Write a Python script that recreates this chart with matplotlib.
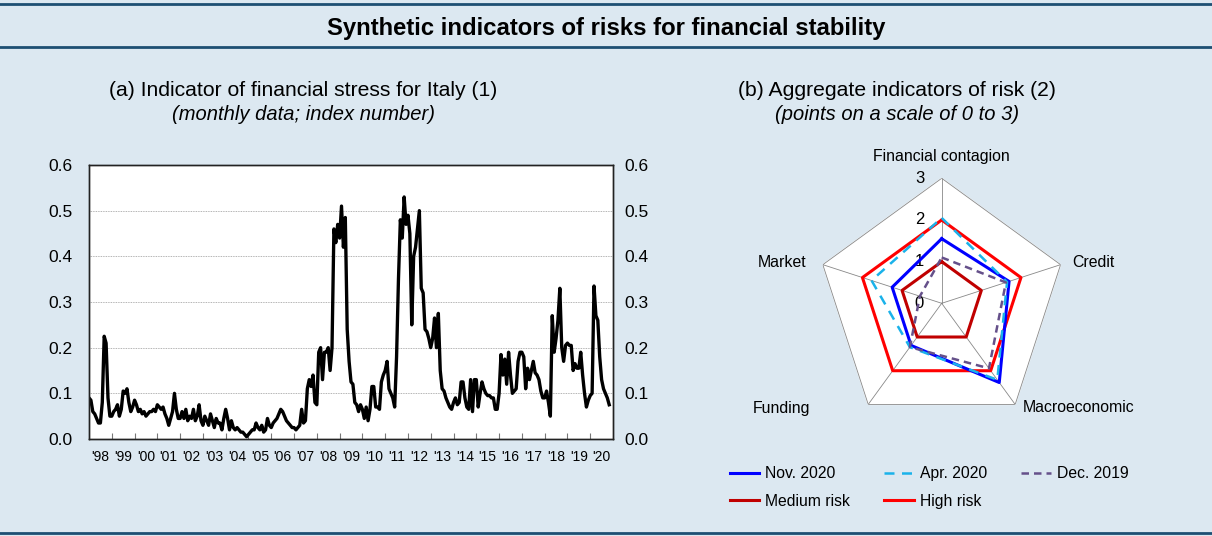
import numpy as np
import matplotlib.pyplot as plt
from matplotlib.lines import Line2D

plt.rcParams['font.family'] = ['Liberation Sans', 'DejaVu Sans']

BG = '#dce8f1'
BORDER = '#1d4f73'

# (a) financial stress indicator, monthly, Jan 1998 - Nov 2020
stress = {
    1998: [0.09, 0.085, 0.06, 0.055, 0.045, 0.035, 0.035, 0.08, 0.225, 0.21, 0.09, 0.05],
    1999: [0.05, 0.06, 0.065, 0.075, 0.05, 0.065, 0.105, 0.10, 0.11, 0.08, 0.06, 0.07],
    2000: [0.085, 0.075, 0.06, 0.065, 0.055, 0.06, 0.05, 0.055, 0.06, 0.06, 0.065, 0.06],
    2001: [0.075, 0.07, 0.065, 0.07, 0.055, 0.045, 0.03, 0.045, 0.06, 0.10, 0.065, 0.045],
    2002: [0.045, 0.06, 0.045, 0.065, 0.04, 0.05, 0.045, 0.065, 0.04, 0.05, 0.075, 0.04],
    2003: [0.03, 0.05, 0.04, 0.03, 0.055, 0.04, 0.025, 0.045, 0.035, 0.035, 0.02, 0.045],
    2004: [0.065, 0.045, 0.02, 0.04, 0.025, 0.02, 0.025, 0.02, 0.015, 0.015, 0.01, 0.005],
    2005: [0.01, 0.015, 0.02, 0.02, 0.035, 0.025, 0.02, 0.03, 0.015, 0.02, 0.045, 0.03],
    2006: [0.025, 0.035, 0.04, 0.045, 0.055, 0.065, 0.06, 0.05, 0.04, 0.035, 0.03, 0.025],
    2007: [0.025, 0.02, 0.025, 0.03, 0.065, 0.035, 0.04, 0.11, 0.13, 0.115, 0.14, 0.08],
    2008: [0.075, 0.19, 0.20, 0.13, 0.19, 0.19, 0.20, 0.15, 0.20, 0.46, 0.43, 0.47],
    2009: [0.44, 0.51, 0.42, 0.485, 0.24, 0.17, 0.125, 0.12, 0.08, 0.075, 0.06, 0.075],
    2010: [0.065, 0.045, 0.07, 0.04, 0.065, 0.115, 0.115, 0.07, 0.07, 0.065, 0.125, 0.14],
    2011: [0.15, 0.17, 0.11, 0.10, 0.09, 0.07, 0.18, 0.35, 0.48, 0.44, 0.53, 0.47],
    2012: [0.49, 0.45, 0.25, 0.40, 0.42, 0.46, 0.50, 0.33, 0.32, 0.24, 0.235, 0.22],
    2013: [0.20, 0.22, 0.265, 0.20, 0.275, 0.15, 0.11, 0.105, 0.09, 0.08, 0.07, 0.065],
    2014: [0.08, 0.09, 0.075, 0.08, 0.125, 0.125, 0.09, 0.07, 0.065, 0.13, 0.06, 0.13],
    2015: [0.13, 0.07, 0.10, 0.125, 0.11, 0.10, 0.095, 0.095, 0.09, 0.09, 0.065, 0.065],
    2016: [0.10, 0.185, 0.14, 0.175, 0.12, 0.19, 0.14, 0.10, 0.105, 0.11, 0.17, 0.19],
    2017: [0.19, 0.18, 0.11, 0.155, 0.13, 0.15, 0.17, 0.145, 0.14, 0.13, 0.105, 0.09],
    2018: [0.09, 0.105, 0.08, 0.05, 0.27, 0.19, 0.22, 0.26, 0.33, 0.20, 0.17, 0.205],
    2019: [0.21, 0.205, 0.205, 0.15, 0.165, 0.155, 0.155, 0.19, 0.14, 0.10, 0.07, 0.085],
    2020: [0.095, 0.10, 0.335, 0.27, 0.26, 0.18, 0.13, 0.11, 0.10, 0.09, 0.075],
}
year_labels = ["'%02d" % (y % 100) for y in range(1998, 2021)]

# (b) aggregate risk indicators
categories = ['Financial contagion', 'Credit', 'Macroeconomic', 'Funding', 'Market']
nov2020 = [1.55, 1.70, 2.35, 1.25, 1.25]
apr2020 = [2.05, 1.65, 2.27, 1.30, 1.77]
dec2019 = [1.10, 1.62, 1.93, 1.30, 0.55]
medium_risk = [1, 1, 1, 1, 1]
high_risk = [2, 2, 2, 2, 2]

fig = plt.figure(figsize=(12.12, 5.36), dpi=100, facecolor=BG)

# frame lines and title
fig.add_artist(Line2D([0, 1], [1 - 3.5 / 536] * 2, color=BORDER, lw=2))
fig.add_artist(Line2D([0, 1], [1 - 46.5 / 536] * 2, color=BORDER, lw=2))
fig.add_artist(Line2D([0, 1], [3.5 / 536] * 2, color=BORDER, lw=2))
fig.text(0.5, 1 - 28 / 536, 'Synthetic indicators of risks for financial stability',
         ha='center', va='center', fontsize=17.2, fontweight='bold')

# ---- (a) line chart
ax = fig.add_axes([89 / 1212, 97 / 536, 524 / 1212, 274 / 536])
vals = [v for y in sorted(stress) for v in stress[y]]
x = 1998 + np.arange(len(vals)) / 12
ax.plot(x, vals, color='black', lw=2.4, solid_joinstyle='round')
ax.set_xlim(1998, 2021)
ax.set_ylim(0, 0.6)
yt = np.arange(0, 0.61, 0.1)
ax.set_yticks(yt)
ax.set_yticklabels(['%.1f' % t for t in yt])
ax.yaxis.grid(True, color='#9a9a9a', lw=0.6, linestyle=(0, (1, 1)))
ax.set_xticks(range(1999, 2021))
ax.set_xticklabels([])
ax.set_xticks(np.arange(1998.5, 2021, 1), minor=True)
ax.set_xticklabels(year_labels, minor=True)
ax.tick_params(axis='x', which='major', direction='in', length=4, color='#777777')
ax.tick_params(axis='x', which='minor', length=0, labelsize=10, pad=8)
ax.tick_params(axis='y', length=0, labelsize=12.5, pad=12)
ax2 = ax.twinx()
ax2.set_ylim(0, 0.6)
ax2.set_yticks(yt)
ax2.set_yticklabels(['%.1f' % t for t in yt])
ax2.tick_params(axis='y', length=0, labelsize=12.5, pad=8)
for a in (ax, ax2):
    for s in a.spines.values():
        s.set_linewidth(1.0)
        s.set_color('#222222')
ax.set_facecolor('white')

fig.text(303 / 1212, 1 - 90 / 536, '(a) Indicator of financial stress for Italy (1)',
         ha='center', va='center', fontsize=15.2)
fig.text(303 / 1212, 1 - 115 / 536, '(monthly data; index number)',
         ha='center', va='center', fontsize=14.5, style='italic')

# ---- (b) radar chart
fig.text(897 / 1212, 1 - 90 / 536, '(b) Aggregate indicators of risk (2)',
         ha='center', va='center', fontsize=15.2)
fig.text(897 / 1212, 1 - 115 / 536, '(points on a scale of 0 to 3)',
         ha='center', va='center', fontsize=14.5, style='italic')

cx, cy, rad = 941.7, 303.3, 125
rax = fig.add_axes([(cx - rad) / 1212, (536 - cy - rad) / 536, 2 * rad / 1212, 2 * rad / 536],
                   projection='polar')
rax.set_theta_offset(np.pi / 2)
rax.set_theta_direction(-1)
rax.set_ylim(0, 3)
rax.set_axis_off()
theta = np.linspace(0, 2 * np.pi, len(categories), endpoint=False)
closed = np.append(theta, theta[0])

rax.fill(closed, [3] * 6, color='white', zorder=0)
rax.plot(closed, [3] * 6, color='#888888', lw=0.6, zorder=1)
for t in theta:
    rax.plot([t, t], [0, 3], color='#888888', lw=0.6, zorder=1)


def close(v):
    return list(v) + [v[0]]


rax.plot(closed, close(high_risk), color='#ff0000', lw=2.2, zorder=3, label='High risk')
rax.plot(closed, close(medium_risk), color='#c00000', lw=2.2, zorder=3, label='Medium risk')
rax.plot(closed, close(nov2020), color='#0000ff', lw=2.2, zorder=4, label='Nov. 2020')
rax.plot(closed, close(apr2020), color='#1ab2ea', lw=1.8, ls=(0, (4, 3)), zorder=5, label='Apr. 2020')
rax.plot(closed, close(dec2019), color='#65508a', lw=1.8, ls=(0, (3, 2)), zorder=6, label='Dec. 2019')

for r in range(4):
    rax.annotate(str(r), xy=(0, r), xytext=(-16, 0), textcoords='offset points',
                 ha='center', va='center', fontsize=12, zorder=2)

lab_pos = [(941, 157, 'center'), (1072, 262.7, 'left'), (1023, 408, 'left'),
           (810, 408, 'right'), (806, 262.7, 'right')]
for name, (px, py, ha) in zip(categories, lab_pos):
    fig.text(px / 1212, 1 - py / 536, name, ha=ha, va='center', fontsize=11.4)

h = {l.get_label(): l for l in rax.get_lines() if not l.get_label().startswith('_')}
order = ['Nov. 2020', 'Medium risk', 'Apr. 2020', 'High risk', 'Dec. 2019']
fig.legend([h[k] for k in order], order, ncol=3, loc='center',
           bbox_to_anchor=(929 / 1212, 1 - 487.5 / 536), frameon=False, fontsize=11.3,
           handlelength=1.9, handletextpad=0.35, columnspacing=2.2, labelspacing=0.8)

fig.savefig('out.png', dpi=100, facecolor=BG)
